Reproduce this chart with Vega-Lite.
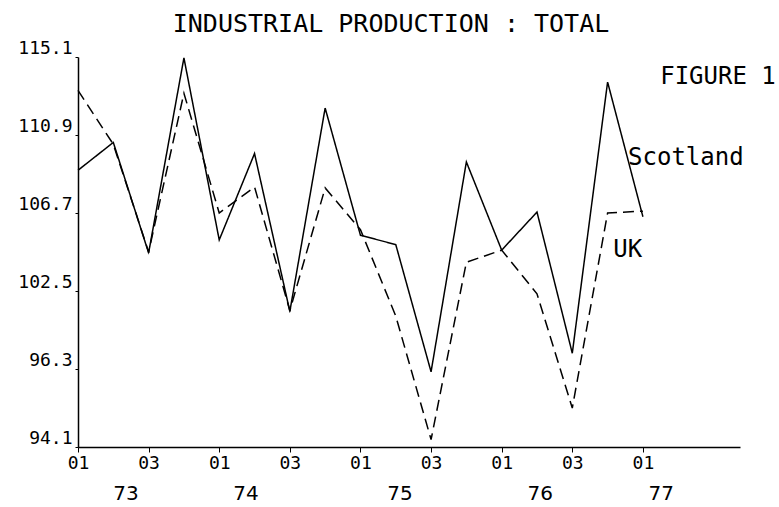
{
  "$schema": "https://vega.github.io/schema/vega-lite/v6.json",
  "width": 662,
  "height": 390,
  "autosize": {"type": "none"},
  "padding": {"left": 78, "top": 57, "right": 39, "bottom": 60},
  "background": "white",
  "config": {"view": {"stroke": null}, "font": "DejaVu Sans Mono"},
  "title": {
    "text": "INDUSTRIAL PRODUCTION : TOTAL",
    "font": "DejaVu Sans Mono",
    "fontSize": 25,
    "fontWeight": "normal",
    "color": "black",
    "anchor": "middle",
    "dx": -18,
    "offset": 2,
    "frame": "group"
  },
  "datasets": {
    "series": [
      {"q": 0, "series": "Scotland", "value": 109.0},
      {"q": 1, "series": "Scotland", "value": 110.5},
      {"q": 2, "series": "Scotland", "value": 104.55},
      {"q": 3, "series": "Scotland", "value": 115.05},
      {"q": 4, "series": "Scotland", "value": 105.25},
      {"q": 5, "series": "Scotland", "value": 109.9},
      {"q": 6, "series": "Scotland", "value": 101.4},
      {"q": 7, "series": "Scotland", "value": 112.35},
      {"q": 8, "series": "Scotland", "value": 105.5},
      {"q": 9, "series": "Scotland", "value": 105.0},
      {"q": 10, "series": "Scotland", "value": 98.15},
      {"q": 11, "series": "Scotland", "value": 109.45},
      {"q": 12, "series": "Scotland", "value": 104.7},
      {"q": 13, "series": "Scotland", "value": 106.75},
      {"q": 14, "series": "Scotland", "value": 99.15},
      {"q": 15, "series": "Scotland", "value": 113.75},
      {"q": 16, "series": "Scotland", "value": 106.5},
      {"q": 0, "series": "UK", "value": 113.3},
      {"q": 1, "series": "UK", "value": 110.4},
      {"q": 2, "series": "UK", "value": 104.6},
      {"q": 3, "series": "UK", "value": 113.15},
      {"q": 4, "series": "UK", "value": 106.7},
      {"q": 5, "series": "UK", "value": 108.1},
      {"q": 6, "series": "UK", "value": 101.45},
      {"q": 7, "series": "UK", "value": 108.05},
      {"q": 8, "series": "UK", "value": 105.8},
      {"q": 9, "series": "UK", "value": 101.15},
      {"q": 10, "series": "UK", "value": 94.5},
      {"q": 11, "series": "UK", "value": 104.05},
      {"q": 12, "series": "UK", "value": 104.7},
      {"q": 13, "series": "UK", "value": 102.35},
      {"q": 14, "series": "UK", "value": 96.2},
      {"q": 15, "series": "UK", "value": 106.7},
      {"q": 16, "series": "UK", "value": 106.8}
    ],
    "labels": [
      {"q": 16.49, "value": 114.0, "label": "FIGURE 1"},
      {"q": 15.58, "value": 109.66, "label": "Scotland"},
      {"q": 15.16, "value": 104.71, "label": "UK"}
    ],
    "years": [
      {"q": 1.36, "value": 91.55, "label": "73"},
      {"q": 4.76, "value": 91.55, "label": "74"},
      {"q": 9.12, "value": 91.55, "label": "75"},
      {"q": 13.09, "value": 91.55, "label": "76"},
      {"q": 16.52, "value": 91.55, "label": "77"}
    ]
  },
  "layer": [
    {
      "data": {"name": "series"},
      "mark": {"type": "line", "color": "black", "strokeWidth": 1.5},
      "encoding": {
        "x": {
          "field": "q",
          "type": "quantitative",
          "scale": {"domain": [0, 18.75], "nice": false, "zero": false},
          "axis": {
            "title": null,
            "grid": false,
            "values": [0, 2, 4, 6, 8, 10, 12, 14, 16],
            "labelExpr": "datum.value % 4 == 0 ? '01' : '03'",
            "labelFont": "DejaVu Sans Mono",
            "labelFontSize": 18,
            "labelColor": "black",
            "labelPadding": 2,
            "tickSize": 5,
            "tickColor": "black",
            "domainColor": "black",
            "domainWidth": 1.5,
            "labelFlush": false,
            "labelOverlap": false
          }
        },
        "y": {
          "field": "value",
          "type": "quantitative",
          "scale": {"domain": [94.1, 115.1], "nice": false, "zero": false},
          "axis": {
            "title": null,
            "grid": false,
            "values": [94.1, 98.3, 102.5, 106.7, 110.9, 115.1],
            "format": ".1f",
            "labelExpr": "datum.label == '98.3' ? '96.3' : datum.label",
            "labelFont": "DejaVu Sans Mono",
            "labelFontSize": 18,
            "labelColor": "black",
            "labelBaseline": "bottom",
            "labelPadding": 3,
            "tickSize": 3,
            "tickColor": "black",
            "domainColor": "black",
            "domainWidth": 1.5,
            "labelFlush": false,
            "labelOverlap": false
          }
        },
        "detail": {"field": "series", "type": "nominal"},
        "strokeDash": {
          "field": "series",
          "type": "nominal",
          "scale": {"domain": ["Scotland", "UK"], "range": [[1, 0], [11, 6]]},
          "legend": null
        }
      }
    },
    {
      "data": {"name": "labels"},
      "mark": {"type": "text", "align": "left", "baseline": "middle", "font": "DejaVu Sans Mono", "fontSize": 24, "color": "black"},
      "encoding": {
        "x": {"field": "q", "type": "quantitative"},
        "y": {"field": "value", "type": "quantitative"},
        "text": {"field": "label"}
      }
    },
    {
      "data": {"name": "years"},
      "mark": {"type": "text", "align": "center", "baseline": "middle", "font": "DejaVu Sans", "fontSize": 20, "color": "black"},
      "encoding": {
        "x": {"field": "q", "type": "quantitative"},
        "y": {"field": "value", "type": "quantitative"},
        "text": {"field": "label"}
      }
    }
  ]
}
